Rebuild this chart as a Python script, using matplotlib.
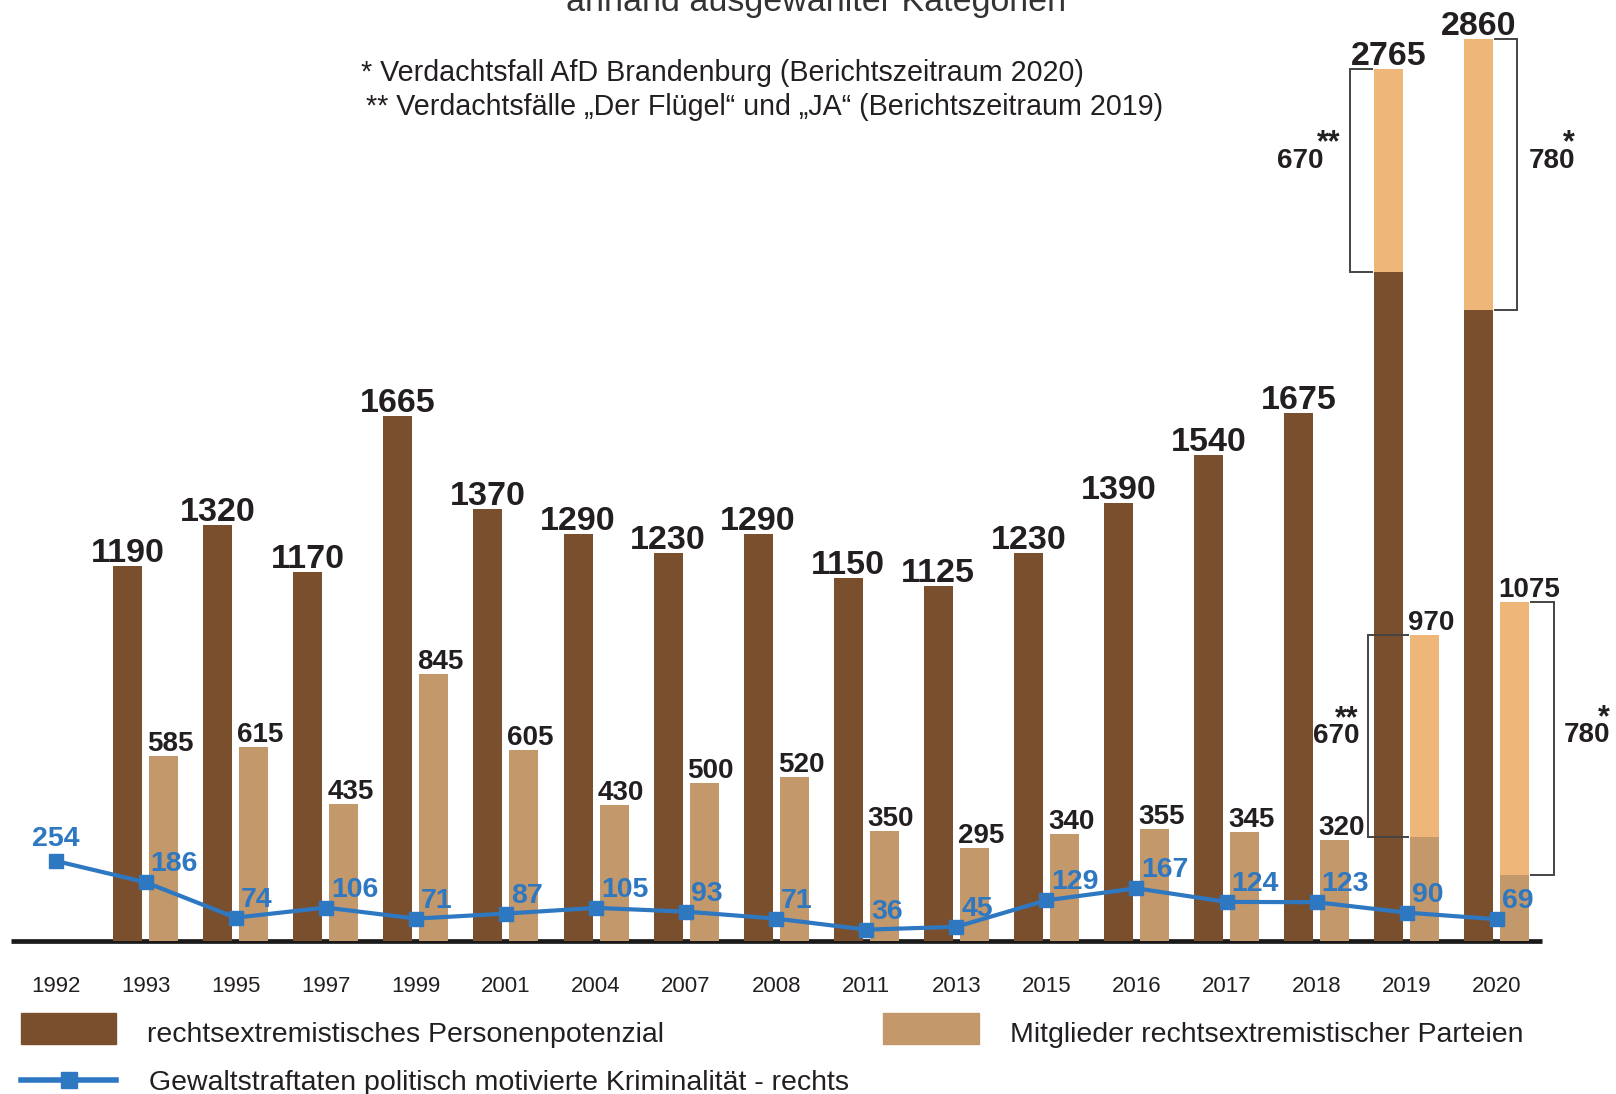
import matplotlib
matplotlib.use('Agg')
import matplotlib.pyplot as plt
import numpy as np
from matplotlib.patches import Rectangle
from matplotlib.lines import Line2D

W, H = 1616, 1094
plt.rcParams['font.family'] = ['Liberation Sans', 'DejaVu Sans']

# ---- data ----
years = ['1992', '1993', '1995', '1997', '1999', '2001', '2004', '2007', '2008',
         '2011', '2013', '2015', '2016', '2017', '2018', '2019', '2020']
personen = [np.nan, 1190, 1320, 1170, 1665, 1370, 1290, 1230, 1290, 1150, 1125,
            1230, 1390, 1540, 1675, 2765, 2860]
mitglieder = [np.nan, 585, 615, 435, 845, 605, 430, 500, 520, 350, 295, 340,
              355, 345, 320, 970, 1075]
gewalt = [254, 186, 74, 106, 71, 87, 105, 93, 71, 36, 45, 129, 167, 124, 123, 90, 69]

# Verdachtsfaelle (AfD) als hellerer Aufsatz 2019/2020, Basis wie im Bild gezeichnet
split_years = ['2019', '2020']
personen_basis = [2120, 2000]
mitglieder_basis = [330, 210]
verdacht_labels = ['670', '780']
verdacht_sterne = ['**', '*']

# ---- colours ----
c_brown = '#7a4f2d'
c_tan = '#c3986a'
c_light = '#eeb779'
c_blue = '#2e78c2'
c_text = '#231f20'
c_brack = '#444444'

fig = plt.figure(figsize=(W / 100, H / 100), dpi=100)
base_px = 941
ax = fig.add_axes([0, (H - base_px) / H, 1, base_px / H])

unit = 90.07                      # px per category
px_per_val = 0.3154               # px per unit value
x = np.arange(len(years))
ax.set_xlim(-55.6 / unit, (W - 55.6) / unit)
ax.set_ylim(0, base_px / px_per_val)
for s in ax.spines.values():
    s.set_visible(False)
ax.set_yticks([])

bw = 29 / unit
off = 18 / unit
pt = 0.72                         # points per pixel

ax.bar(x - off, personen, bw, color=c_brown, zorder=2)
ax.bar(x + off, mitglieder, bw, color=c_tan, zorder=2)

# lighter upper parts for 2019/2020
idx = [years.index(y) for y in split_years]
tot_p = [personen[i] for i in idx]
tot_m = [mitglieder[i] for i in idx]
ax.bar(x[idx] - off, np.array(tot_p) - personen_basis, bw, bottom=personen_basis,
       color=c_light, zorder=2)
ax.bar(x[idx] + off, np.array(tot_m) - mitglieder_basis, bw, bottom=mitglieder_basis,
       color=c_light, zorder=2)

# baseline (behind the bars)
ax.plot([x[0] - 0.5, x[-1] + 0.5], [0, 0], color='#1a1a1a', lw=3.4,
        solid_capstyle='butt', zorder=1, clip_on=False)

# value labels
for i in range(len(years)):
    if not np.isnan(personen[i]):
        ax.annotate(str(personen[i]), (x[i] - off, personen[i]), xytext=(0, 4 * pt),
                    textcoords='offset points', ha='center', va='baseline',
                    fontsize=24.5, fontweight='bold', color=c_text, zorder=6)
    if not np.isnan(mitglieder[i]):
        ax.annotate(str(mitglieder[i]), (x[i] + off - bw / 2, mitglieder[i]),
                    xytext=(-2 * pt, 5 * pt), textcoords='offset points',
                    ha='left', va='baseline', fontsize=20, fontweight='bold',
                    color=c_text, zorder=6)

# blue line
ax.plot(x, gewalt, color=c_blue, lw=3, marker='s', markersize=10.5, zorder=5)
for i, v in enumerate(gewalt):
    if i == 0:
        xy, ha = (0, 15 * pt), 'center'
    else:
        xy, ha = (5 * pt, 11 * pt), 'left'
    ax.annotate(str(v), (x[i], v), xytext=xy, textcoords='offset points', ha=ha,
                va='baseline', fontsize=20.5, fontweight='bold', color=c_blue, zorder=6)


# brackets with "670**" / "780*" labels
def bracket(xe, y0, y1, side, gap_px, label, stars, lab_dx, lab_dy, star_dx):
    xv = xe + side * gap_px / unit
    xt = xe + side * 2 / unit
    ax.plot([xt, xv, xv, xt], [y1, y1, y0, y0], color=c_brack, lw=1.4, zorder=4,
            solid_joinstyle='miter')
    ym = (y0 + y1) / 2
    ha = 'right' if side < 0 else 'left'
    ax.annotate(label, (xv, ym), xytext=(lab_dx * pt, -lab_dy * pt),
                textcoords='offset points', ha=ha, va='center', fontsize=20,
                fontweight='bold', color=c_text, zorder=6)
    ax.annotate(stars, (xv, ym), xytext=(star_dx * pt, (-lab_dy + 17) * pt),
                textcoords='offset points', ha='left', va='center', fontsize=22,
                fontweight='bold', color=c_text, zorder=6)


i19, i20 = idx
# Personenpotenzial
bracket(x[i19] - off - bw / 2, personen_basis[0], tot_p[0], -1, 24,
        verdacht_labels[0], verdacht_sterne[0], -27, -10, -33)
bracket(x[i20] - off + bw / 2, personen_basis[1], tot_p[1], 1, 24,
        verdacht_labels[1], verdacht_sterne[1], 12, -14, 46)
# Mitglieder
bracket(x[i19] + off - bw / 2, mitglieder_basis[0], tot_m[0], -1, 42,
        verdacht_labels[0], verdacht_sterne[0], -9, 0, -33)
bracket(x[i20] + off + bw / 2, mitglieder_basis[1], tot_m[1], 1, 25,
        verdacht_labels[1], verdacht_sterne[1], 10, -3, 44)

# x tick labels
ax.set_xticks(x)
ax.set_xticklabels(years, fontsize=16, color=c_text)
ax.tick_params(axis='x', length=0, pad=25)


def fx(px):
    return px / W


def fy(py):
    return 1 - py / H


# title (cut off at top) and footnotes
fig.text(fx(816), fy(11), 'anhand ausgewählter Kategorien', ha='center', va='baseline',
         fontsize=24.5, color='#333333')
fig.text(fx(361), fy(73), '* Verdachtsfall AfD Brandenburg (Berichtszeitraum 2020)',
         ha='left', va='center', fontsize=20.6, color=c_text)
fig.text(fx(366), fy(107), '** Verdachtsfälle „Der Flügel“ und „JA“ (Berichtszeitraum 2019)',
         ha='left', va='center', fontsize=20.6, color=c_text)

# legend
fig.add_artist(Rectangle((fx(21), fy(1044)), fx(95), (1044 - 1013) / H,
                         transform=fig.transFigure, color=c_brown))
fig.text(fx(147), fy(1035), 'rechtsextremistisches Personenpotenzial', ha='left',
         va='center', fontsize=20.5, color=c_text)
fig.add_artist(Rectangle((fx(883), fy(1044)), fx(96), (1044 - 1013) / H,
                         transform=fig.transFigure, color=c_tan))
fig.text(fx(1010), fy(1035), 'Mitglieder rechtsextremistischer Parteien', ha='left',
         va='center', fontsize=20.5, color=c_text)
fig.add_artist(Line2D([fx(21), fx(116)], [fy(1080), fy(1080)], transform=fig.transFigure,
                      color=c_blue, lw=4))
fig.add_artist(Line2D([fx(69)], [fy(1080)], transform=fig.transFigure, color=c_blue,
                      marker='s', markersize=11))
fig.text(fx(149), fy(1083), 'Gewaltstraftaten politisch motivierte Kriminalität - rechts',
         ha='left', va='center', fontsize=20.5, color=c_text)

fig.savefig('out.png', dpi=100)
